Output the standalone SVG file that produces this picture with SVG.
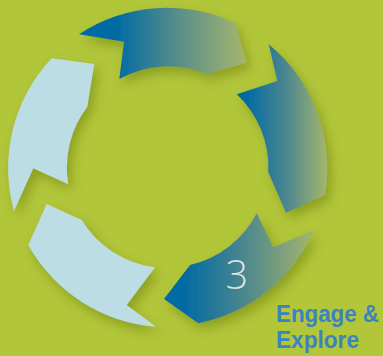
<svg xmlns="http://www.w3.org/2000/svg" width="383" height="356" viewBox="0 0 383 356">
  <style>
    .light { fill: #bcdde4; }
    .seg { filter: url(#shadow); }
    .label { font-family: "Liberation Sans", Arial, sans-serif; font-weight: bold; font-size: 23px; fill: #3a82c4; }
    .num { font-family: "Open Sans", "Liberation Sans", sans-serif; font-weight: 300; font-size: 40px; fill: #dde2e2; }
  </style>
  <defs>
    <filter id="shadow" x="-30%" y="-30%" width="160%" height="160%">
      <feDropShadow dx="4" dy="6" stdDeviation="6" flood-color="#5f6e0c" flood-opacity="0.45"/>
    </filter>
    <linearGradient id="gTop" x1="0" y1="0" x2="1" y2="0">
      <stop offset="0.22" stop-color="#006aa3"/>
      <stop offset="0.6" stop-color="#5a8f88"/>
      <stop offset="1" stop-color="#a6b66c"/>
    </linearGradient>
    <linearGradient id="gRU" x1="0" y1="0" x2="1" y2="0">
      <stop offset="0.1" stop-color="#006aa3"/>
      <stop offset="0.55" stop-color="#4d878f"/>
      <stop offset="1" stop-color="#a6b66c"/>
    </linearGradient>
    <linearGradient id="gRL" x1="0" y1="0" x2="1" y2="0">
      <stop offset="0.13" stop-color="#006aa3"/>
      <stop offset="0.55" stop-color="#4f888d"/>
      <stop offset="1" stop-color="#a6b66c"/>
    </linearGradient>
  </defs>
  <rect width="383" height="356" fill="#b2c63a"/>
  <g id="connectors"/>
  <g id="arrow-top" class="seg">
    <path fill="url(#gTop)" d="M 79,34.3 L 124,41.7 L 119.3,79 A 100 100 0 0 1 206.7,74 L 246.7,62.7 L 235.3,23.3 A 159 159 0 0 0 79,34.3 Z"/>
  </g>
  <g id="arrow-right-upper" class="seg">
    <path fill="url(#gRU)" d="M 268.7,44.3 L 277.3,81 L 236.7,94.3 A 100 100 0 0 1 268.3,172.3 L 286,212.7 L 325,195 A 160 160 0 0 0 268.7,44.3 Z"/>
  </g>
  <g id="arrow-right-lower" class="seg">
    <path fill="url(#gRL)" d="M 256.7,213.3 L 273.3,247.3 L 314,230 A 160 160 0 0 1 198.3,323.3 L 164,299 L 190,265 A 100 100 0 0 0 256.7,213.3 Z"/>
    <text class="num" x="237" y="289" text-anchor="middle">3</text>
  </g>
  <g id="arrow-bottom-left" class="seg">
    <path class="light" d="M 155,267.3 L 126.7,305 L 156,326.7 A 160 160 0 0 1 28.3,245 L 46.7,204 L 81.7,220 A 100 100 0 0 0 155,267.3 Z"/>
  </g>
  <g id="arrow-left" class="seg">
    <path class="light" d="M 14,211 L 33.3,168.3 L 68.3,184.3 A 100 100 0 0 1 87.3,106.7 L 94.3,64 L 51.7,58.3 A 160 160 0 0 0 14,211 Z"/>
  </g>
  <g id="label">
    <text class="label" x="276" y="321.5" textLength="103" lengthAdjust="spacingAndGlyphs">Engage &amp;</text>
    <text class="label" x="276" y="348" textLength="83" lengthAdjust="spacingAndGlyphs">Explore</text>
  </g>
</svg>
